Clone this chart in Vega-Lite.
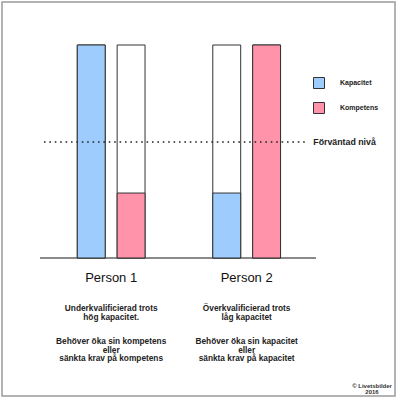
{
  "$schema": "https://vega.github.io/schema/vega-lite/v6.json",
  "width": 393,
  "height": 394,
  "autosize": {"type": "none"},
  "padding": {"left": 2, "top": 2, "right": 4, "bottom": 4},
  "background": "white",
  "config": {
    "view": {"stroke": "#9a9a9a", "strokeWidth": 1.5},
    "font": "Liberation Sans"
  },
  "datasets": {
    "bars": [
      {"person": "Person 1", "measure": "Kapacitet", "value": 100},
      {"person": "Person 1", "measure": "Kompetens", "value": 30.5},
      {"person": "Person 2", "measure": "Kapacitet", "value": 30.5},
      {"person": "Person 2", "measure": "Kompetens", "value": 100}
    ],
    "people": [
      {"person": "Person 1", "situation": ["Underkvalificierad trots", "hög kapacitet."], "action": ["Behöver öka sin kompetens", "eller", "sänkta krav på kompetens"]},
      {"person": "Person 2", "situation": ["Överkvalificierad trots", "låg kapacitet"], "action": ["Behöver öka sin kapacitet", "eller", "sänkta krav på kapacitet"]}
    ],
    "levels": [{"label": "Förväntad nivå", "value": 54.5}],
    "credit": [{"text": ["© Livetsbilder", "2016"]}]
  },
  "layer": [
    {
      "data": {"values": [{}]},
      "mark": {"type": "rule", "stroke": "#8a8a8a", "strokeWidth": 2},
      "encoding": {
        "x": {"datum": "Person 1", "type": "nominal", "bandPosition": -0.551,
          "scale": {"domain": ["Person 1", "Person 2"], "paddingInner": 0.5, "paddingOuter": 0.7002, "align": 0.3968, "round": false},
          "axis": null},
        "x2": {"datum": "Person 2", "bandPosition": 1.523},
        "y": {"datum": 0, "type": "quantitative",
          "scale": {"domain": [-64.79, 120.19], "nice": false, "zero": false},
          "axis": null}
      }
    },
    {
      "data": {"name": "bars"},
      "mark": {"type": "bar", "fill": "white", "stroke": "#333333", "strokeWidth": 1},
      "encoding": {
        "x": {"field": "person", "type": "nominal", "axis": null},
        "xOffset": {"field": "measure", "type": "nominal",
          "scale": {"domain": ["Kapacitet", "Kompetens"], "paddingInner": 0.3, "paddingOuter": 0}},
        "y": {"datum": 100, "type": "quantitative"},
        "y2": {"datum": 0}
      }
    },
    {
      "data": {"name": "bars"},
      "mark": {"type": "bar", "stroke": "#333333", "strokeWidth": 1, "opacity": 1},
      "encoding": {
        "x": {"field": "person", "type": "nominal", "axis": null},
        "xOffset": {"field": "measure", "type": "nominal"},
        "y": {"field": "value", "type": "quantitative"},
        "y2": {"datum": 0},
        "color": {"field": "measure", "type": "nominal",
          "scale": {"domain": ["Kapacitet", "Kompetens"], "range": ["#9ecdfd", "#ff93aa"]},
          "legend": {"orient": "none", "legendX": 311, "legendY": 75, "title": null,
            "symbolType": "square", "symbolSize": 121, "symbolStrokeColor": "#333333",
            "symbolStrokeWidth": 1, "symbolOpacity": 1, "labelFontSize": 7, "labelFontWeight": "bold", "labelOffset": 15,
            "rowPadding": 9, "labelFont": "Liberation Sans", "labelColor": "#222222"}}
      }
    },
    {
      "data": {"name": "levels"},
      "mark": {"type": "rule", "stroke": "#222222", "strokeWidth": 1.5, "strokeDash": [1.6, 3.8]},
      "encoding": {
        "x": {"datum": "Person 1", "type": "nominal", "bandPosition": -0.492},
        "x2": {"datum": "Person 2", "bandPosition": 1.405},
        "y": {"field": "value", "type": "quantitative"}
      }
    },
    {
      "data": {"name": "levels"},
      "mark": {"type": "text", "align": "left", "baseline": "middle", "fontSize": 8.8, "fontWeight": "bold", "color": "#222222"},
      "encoding": {
        "x": {"datum": "Person 2", "type": "nominal", "bandPosition": 1.483},
        "y": {"field": "value", "type": "quantitative"},
        "text": {"field": "label"}
      }
    },
    {
      "data": {"name": "people"},
      "mark": {"type": "text", "align": "center", "baseline": "middle", "fontSize": 13, "color": "#111111"},
      "encoding": {
        "x": {"field": "person", "type": "nominal"},
        "y": {"datum": -9.4, "type": "quantitative"},
        "text": {"field": "person"}
      }
    },
    {
      "data": {"name": "people"},
      "mark": {"type": "text", "align": "center", "baseline": "middle", "fontSize": 8.3, "fontWeight": "bold", "lineHeight": 8.6, "color": "#222222"},
      "encoding": {
        "x": {"field": "person", "type": "nominal"},
        "y": {"datum": -24.04, "type": "quantitative"},
        "text": {"field": "situation"}
      }
    },
    {
      "data": {"name": "people"},
      "mark": {"type": "text", "align": "center", "baseline": "middle", "fontSize": 8.3, "fontWeight": "bold", "lineHeight": 8.8, "color": "#222222"},
      "encoding": {
        "x": {"field": "person", "type": "nominal"},
        "y": {"datum": -39.3, "type": "quantitative"},
        "text": {"field": "action"}
      }
    },
    {
      "data": {"name": "credit"},
      "mark": {"type": "text", "align": "center", "baseline": "middle", "fontSize": 6, "fontWeight": "bold", "lineHeight": 6.5, "color": "#333333"},
      "encoding": {
        "x": {"datum": "Person 2", "type": "nominal", "bandPosition": 2.35},
        "y": {"datum": -60.0, "type": "quantitative"},
        "text": {"field": "text"}
      }
    }
  ]
}
